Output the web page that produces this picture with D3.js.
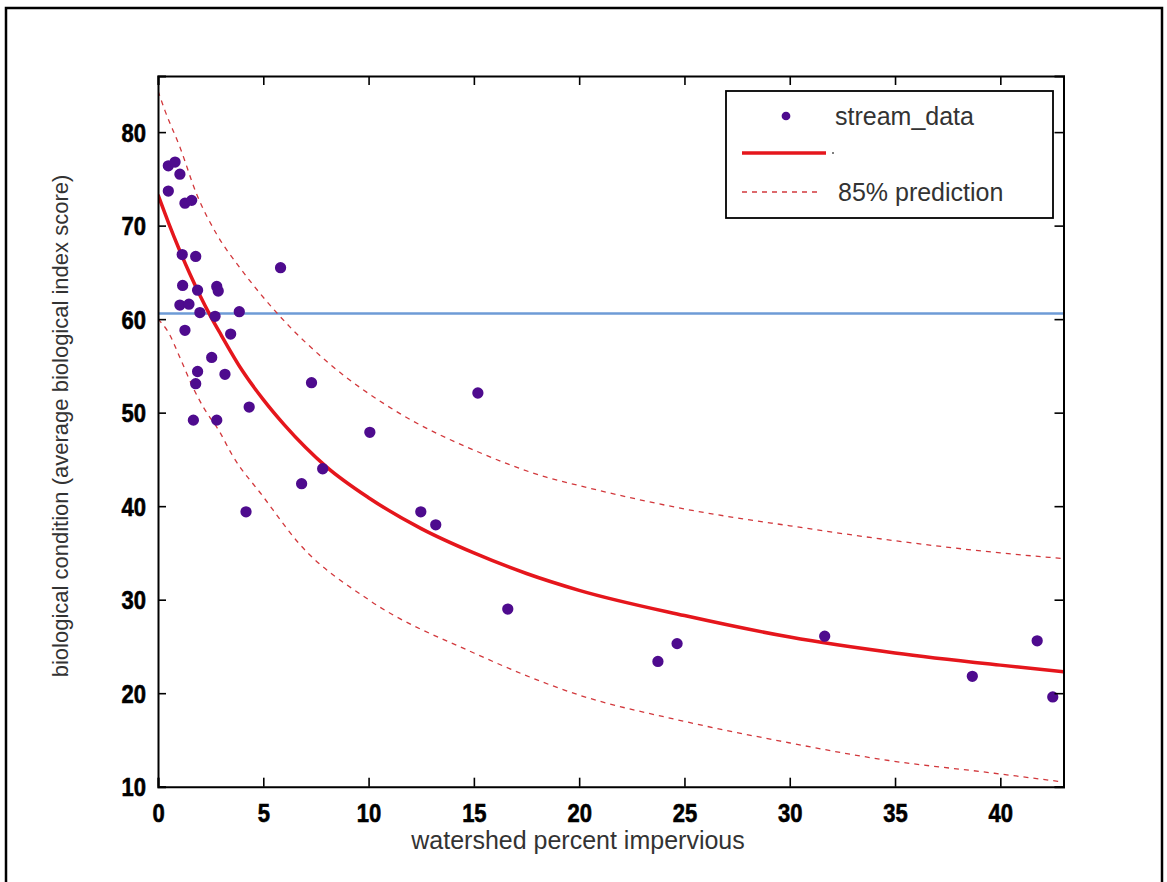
<!DOCTYPE html>
<html>
<head>
<meta charset="utf-8">
<script src="https://cdn.jsdelivr.net/npm/d3@7"></script>
<style>
  html, body { margin: 0; padding: 0; background: #fff; }
  svg { display: block; }
</style>
</head>
<body>
<script>
// ---- data ----
const pointX = [0.49, 0.49, 0.81, 1.04, 1.28, 1.60, 1.15, 1.79, 5.82, 1.17, 1.88, 2.79, 2.86, 1.04, 1.47, 1.99, 2.71, 3.86,
  1.28, 3.45, 2.55, 1.88, 3.18, 1.79, 1.68, 2.79, 4.33, 7.29, 15.19, 10.06, 7.82, 6.82, 4.18, 12.48, 13.19, 16.61,
  23.74, 24.65, 31.66, 38.67, 41.75, 42.49];
const pointY = [73.7, 76.4, 76.8, 75.5, 72.4, 72.7, 66.9, 66.7, 65.5, 63.6, 63.1, 63.5, 63.0, 61.5, 61.6, 60.7, 60.3, 60.8,
  58.8, 58.4, 55.9, 54.4, 54.1, 53.1, 49.2, 49.2, 50.6, 53.2, 52.1, 47.9, 44.0, 42.4, 39.4, 39.4, 38.0, 29.0,
  23.4, 25.3, 26.1, 21.8, 25.6, 19.6];

const fitX = [0, 0.5, 1, 1.5, 2, 2.5, 3, 4, 5, 6, 7, 8, 10, 12.5, 15, 17.5, 20, 25, 30, 35, 40, 43];
const fitY = [73.3, 70.3, 67.5, 64.9, 62.5, 60.3, 58.3, 54.5, 51.4, 48.7, 46.3, 44.2, 40.9, 37.6, 35.0, 32.8, 31.0, 28.3, 26.0, 24.3, 23.0, 22.3];

const upperX = [0, 0.33, 1.04, 1.83, 2.78, 3.89, 5.79, 8.16, 11.49, 15.1, 18.44, 20, 25, 30, 35, 40, 43];
const upperY = [84.4, 82.3, 78.4, 73.4, 69.1, 65.5, 60.3, 55.2, 49.9, 45.9, 43.1, 42.2, 39.7, 37.9, 36.3, 35.0, 34.4];

const lowerX = [0, 0.49, 1.04, 1.68, 2.15, 2.94, 3.49, 5, 6.7, 10, 15, 20, 24.77, 29.5, 34.7, 39.5, 43];
const lowerY = [60.0, 58.6, 55.9, 52.6, 50.6, 47.9, 45.6, 41.0, 36.0, 30.0, 24.3, 19.8, 17.1, 14.9, 12.8, 11.5, 10.5];

const thresholdY = 60.6;

const xTicks = [0, 5, 10, 15, 20, 25, 30, 35, 40];
const yTicks = [10, 20, 30, 40, 50, 60, 70, 80];
const xDomain = [0, 43];
const yDomain = [10, 86];

const legendLabels = ["stream_data", "", "85% prediction"];
const xLabel = "watershed percent impervious";
const yLabel = "biological condition (average biological index score)";

// ---- drawing ----
const W = 1167, H = 882;
const svg = d3.select("body").append("svg").attr("width", W).attr("height", H);

// outer frame
svg.append("rect").attr("x", 6).attr("y", 8).attr("width", 1156).attr("height", 890)
  .attr("fill", "none").attr("stroke", "#000").attr("stroke-width", 2.5);

const L = 158, R = 1063.5, T = 76, B = 786.7;
const x = d3.scaleLinear().domain(xDomain).range([L, R]);
const y = d3.scaleLinear().domain(yDomain).range([B, T]);

const tickFont = "'Liberation Sans', Arial, sans-serif";
const textFont = "'Liberation Sans', Arial, sans-serif";

// lines
const line = d3.line().x(d => x(d[0])).y(d => y(d[1])).curve(d3.curveMonotoneX);
svg.append("clipPath").attr("id", "clip").append("rect")
  .attr("x", L).attr("y", T).attr("width", R - L).attr("height", B - T);
const plot = svg.append("g").attr("clip-path", "url(#clip)");

plot.append("line").attr("x1", x(xDomain[0])).attr("x2", x(xDomain[1]))
  .attr("y1", y(thresholdY)).attr("y2", y(thresholdY))
  .attr("stroke", "#6e9bd6").attr("stroke-width", 2.6);

plot.append("path").datum(d3.zip(upperX, upperY)).attr("d", line)
  .attr("fill", "none").attr("stroke", "#d2383c").attr("stroke-width", 1.3).attr("stroke-dasharray", "5,5");
plot.append("path").datum(d3.zip(lowerX, lowerY)).attr("d", line)
  .attr("fill", "none").attr("stroke", "#d2383c").attr("stroke-width", 1.3).attr("stroke-dasharray", "5,5");

plot.append("path").datum(d3.zip(fitX, fitY)).attr("d", line)
  .attr("fill", "none").attr("stroke", "#e5161c").attr("stroke-width", 3.5);

const sym = d3.symbol().type(d3.symbolCircle).size(100);
plot.selectAll("path.pt").data(d3.zip(pointX, pointY)).enter().append("path")
  .attr("class", "pt").attr("d", sym)
  .attr("transform", d => `translate(${x(d[0])},${y(d[1])})`)
  .attr("fill", "#4e0b8e");

// axes
const axB = svg.append("g").attr("transform", `translate(0,${B})`)
  .call(d3.axisBottom(x).tickValues(xTicks).tickSize(-9).tickPadding(0).tickFormat(d3.format("d")));
const axT = svg.append("g").attr("transform", `translate(0,${T})`)
  .call(d3.axisTop(x).tickValues(xTicks).tickSize(-9).tickFormat(""));
const axL = svg.append("g").attr("transform", `translate(${L},0)`)
  .call(d3.axisLeft(y).tickValues(yTicks).tickSize(-8).tickPadding(0).tickFormat(d3.format("d")));
const axR = svg.append("g").attr("transform", `translate(${R},0)`)
  .call(d3.axisRight(y).tickValues(yTicks).tickSize(-9).tickFormat(""));

[axB, axT, axL, axR].forEach(a => {
  a.select(".domain").attr("stroke", "#000").attr("stroke-width", 2);
  a.selectAll(".tick line").attr("stroke", "#000").attr("stroke-width", 1.6);
  a.selectAll("text").attr("font-family", tickFont).attr("font-weight", "bold")
    .attr("font-size", 25).attr("fill", "#000").attr("stroke", "#000").attr("stroke-width", 0.6);
});
// condensed look: scale horizontally around each label
axB.selectAll(".tick text").attr("x", 0).attr("y", 0).attr("dy", 0)
  .attr("transform", "translate(0,35) scale(0.88,1)");
axL.selectAll(".tick text").attr("x", 0).attr("y", 0).attr("dy", 0)
  .attr("transform", "translate(-12,9) scale(0.88,1)");

// axis labels
svg.append("text").attr("x", 578).attr("y", 849).attr("text-anchor", "middle")
  .attr("font-family", textFont).attr("font-size", 25).attr("fill", "#333").text(xLabel);
svg.append("text").attr("transform", `translate(68,426) rotate(-90)`)
  .attr("text-anchor", "middle").attr("font-family", textFont).attr("font-size", 22)
  .attr("fill", "#333").text(yLabel);

// legend
const lg = svg.append("g");
lg.append("rect").attr("x", 726).attr("y", 91).attr("width", 327).attr("height", 127)
  .attr("fill", "#fff").attr("stroke", "#000").attr("stroke-width", 1.8);
lg.append("path").attr("d", d3.symbol().type(d3.symbolCircle).size(60))
  .attr("transform", "translate(786,116)").attr("fill", "#4e0b8e");
lg.append("line").attr("x1", 742).attr("x2", 826).attr("y1", 153).attr("y2", 153)
  .attr("stroke", "#e5161c").attr("stroke-width", 3.5);
lg.append("circle").attr("cx", 833).attr("cy", 153).attr("r", 1).attr("fill", "#555");
lg.append("line").attr("x1", 742).attr("x2", 820).attr("y1", 192).attr("y2", 192)
  .attr("stroke", "#d2383c").attr("stroke-width", 1.3).attr("stroke-dasharray", "5,5");
const lgY = [116, 153, 192];
lg.selectAll("text.lt").data(legendLabels).enter().append("text").attr("class", "lt")
  .attr("x", (d, i) => i === 0 ? 835 : 838).attr("y", (d, i) => lgY[i]).attr("dy", "0.35em")
  .attr("font-family", textFont).attr("font-size", 25).attr("fill", "#333").text(d => d);
</script>
</body>
</html>
